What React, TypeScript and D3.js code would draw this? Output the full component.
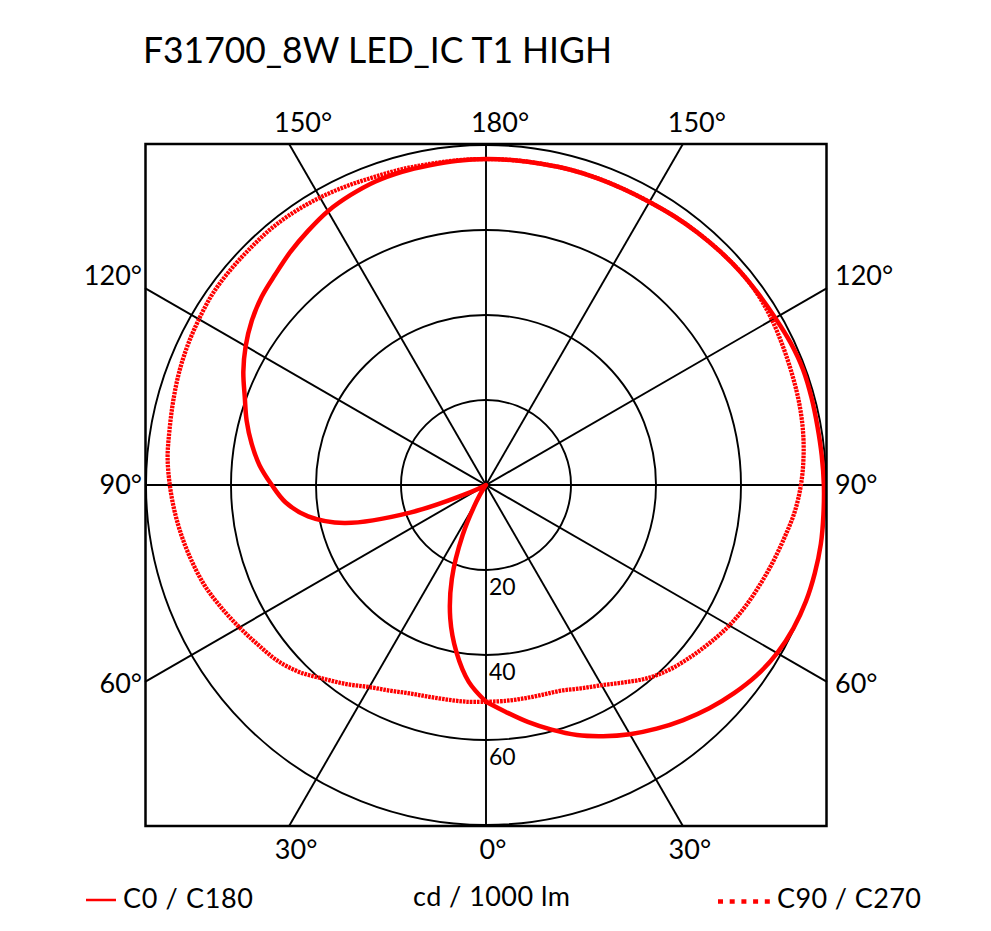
import React from 'react';
import * as d3 from 'd3';

// ---- data ----
const TITLE = 'F31700_8W LED_IC T1 HIGH';
const UNIT_LABEL = 'cd / 1000 lm';
const SERIES_A_NAME = 'C0 / C180';
const SERIES_B_NAME = 'C90 / C270';

// gamma angles (deg, 0 = down / nadir, 180 = up)
const GAMMA = [0, 5, 10, 15, 20, 25, 30, 35, 40, 45, 50, 55, 60, 65, 70, 75, 80, 85, 90,
  95, 100, 105, 110, 115, 120, 125, 130, 135, 140, 145, 150, 155, 160, 165, 170, 175, 180];

// cd/1000lm
const C0 = [51, 53.6, 56.6, 59.6, 62.6, 65.2, 67.7, 70, 72.2, 74.3, 76.2, 77.9, 79.1, 79.8, 80.1, 80.1, 80, 79.7, 79.5,
  79.3, 79.2, 79.3, 79.4, 79.1, 78.6, 78.3, 78.1, 77.8, 77.5, 77.2, 76.9, 76.8, 76.8, 76.8, 76.7, 76.7, 76.7];
const C180 = [51, 46.5, 40, 32.5, 23.5, 13, 4.5, 1, 0, 0, 0, 0, 0.5, 4, 19, 34.5, 42.5, 47.3, 50.4,
  53.5, 56, 58.3, 60.4, 63, 65.3, 67.3, 68.9, 70.1, 71.6, 73, 74.4, 75.3, 76, 76.3, 76.4, 76.6, 76.7];
const C90 = [51, 51, 51, 51.1, 51.5, 52.8, 54.4, 56.7, 59.3, 61.3, 62.9, 64.5, 66.1, 67.4, 68.6, 69.9, 71.3, 72.9, 74.1,
  75, 75.7, 76.2, 76.6, 77.1, 77.7, 78.1, 78.1, 77.8, 77.5, 77.2, 76.9, 76.8, 76.8, 76.8, 76.7, 76.7, 76.7];
const C270 = [51, 51.2, 51.3, 51.6, 52.2, 53.4, 54.9, 57.2, 59.5, 62.2, 64.2, 65.5, 67, 68.6, 70.2, 71.4, 72.5, 73.5, 74.4,
  75.2, 75.6, 76.2, 76.9, 77.5, 78, 78.5, 78.6, 78.6, 78.7, 78.5, 78.1, 77.6, 77.1, 76.9, 76.7, 76.7, 76.7];

const RING_VALUES = [20, 40, 60, 80];
const RING_LABELS = [20, 40, 60];
const SPOKE_ANGLES = [0, 30, 60, 90, 120, 150];
const TOP_LABELS = [150, 180, 150];
const BOTTOM_LABELS = [30, 0, 30];
const SIDE_LABELS = [120, 90, 60];

const FONT = 'Lato, "Open Sans", sans-serif';
const RED = '#ff0000';

export default function App() {
  React.useEffect(() => {
    document.body.style.margin = '0';
  }, []);

  const W = 991, H = 931;
  const cx = 486, cy = 485;
  const half = 341;
  const r = d3.scaleLinear().domain([0, 80]).range([0, 340]);
  const rad = (d: number) => (d * Math.PI) / 180;

  // open curve: right half from nadir over the top (a = PI - g), then left half back to nadir (a = g - PI)
  const buildPoints = (right: number[], left: number[]) => {
    const pts: [number, number][] = [];
    GAMMA.forEach((g, i) => pts.push([Math.PI - rad(g), r(right[i])]));
    for (let i = GAMMA.length - 2; i >= 0; i--) pts.push([rad(GAMMA[i]) - Math.PI, r(left[i])]);
    return pts;
  };
  const line = d3.lineRadial<[number, number]>()
    .angle(d => d[0])
    .radius(d => d[1])
    .curve(d3.curveCatmullRom.alpha(0.5));

  const pathA = line(buildPoints(C0, C180)) || '';
  const pathB = line(buildPoints(C90, C270)) || '';

  // spoke end points clipped to box
  const spokeEnd = (deg: number) => {
    const s = Math.sin(rad(deg)), c = Math.cos(rad(deg));
    const t = half / Math.max(Math.abs(s), Math.abs(c));
    return [s * t, c * t];
  };
  const topX = (deg: number, side: number) => cx + side * Math.abs(spokeEnd(deg)[0]);
  const sideY = (deg: number) => cy + spokeEnd(deg)[1];

  return (
    <svg width={W} height={H} style={{ position: 'absolute', left: 0, top: 0, background: '#fff' }}
      fontFamily={FONT}>
      <rect x={0} y={0} width={W} height={H} fill="#fff" />
      <text x={143} y={62.5} fontSize={36} fill="#000" textLength={469} lengthAdjust="spacingAndGlyphs">{TITLE}</text>

      <g transform={`translate(${cx},${cy})`}>
        {RING_VALUES.map(v => (
          <circle key={v} r={r(v)} fill="none" stroke="#000" strokeWidth={1.9} />
        ))}
        {SPOKE_ANGLES.map(a => {
          const [x, y] = spokeEnd(a);
          return <line key={a} x1={-x} y1={-y} x2={x} y2={y} stroke="#000" strokeWidth={1.9} />;
        })}
        <path d={pathB} fill="none" stroke={RED} strokeWidth={4.3} strokeDasharray="2.6 0.9" />
        <path d={pathA} fill="none" stroke={RED} strokeWidth={4.5} strokeLinejoin="round" />
        {RING_LABELS.map(v => (
          <text key={v} x={3} y={r(v) + 24.5} fontSize={23} fill="#000">{v}</text>
        ))}
      </g>
      <rect x={cx - half + 0.5} y={cy - half} width={2 * half - 1} height={2 * half}
        fill="none" stroke="#000" strokeWidth={2.5} />

      {TOP_LABELS.map((v, i) => {
        const side = i - 1;
        const x = side === 0 ? cx : topX(180 - v, side);
        return <text key={'t' + i} x={x + 14} y={132} fontSize={27} textAnchor="middle">{v}°</text>;
      })}
      {BOTTOM_LABELS.map((v, i) => {
        const side = i - 1;
        const x = side === 0 ? cx : topX(v, side);
        return <text key={'b' + i} x={x + 7} y={859} fontSize={27} textAnchor="middle">{v}°</text>;
      })}
      {SIDE_LABELS.map(v => {
        const y = sideY(v) + (v > 90 ? -3 : v === 90 ? 9 : 11);
        return (
          <g key={'s' + v}>
            <text x={142} y={y} fontSize={27} textAnchor="end">{v}°</text>
            <text x={835} y={y} fontSize={27} textAnchor="start">{v}°</text>
          </g>
        );
      })}

      {/* legend */}
      <line x1={86} x2={116} y1={900} y2={900} stroke={RED} strokeWidth={2.5} />
      <text x={123} y={908} fontSize={27} textLength={130} lengthAdjust="spacing">{SERIES_A_NAME}</text>
      <text x={413} y={906} fontSize={27} textLength={157} lengthAdjust="spacing">{UNIT_LABEL}</text>
      <line x1={718} x2={772} y1={901.5} y2={901.5} stroke={RED} strokeWidth={4.5} strokeDasharray="5 6.7" />
      <text x={777} y={908} fontSize={27} textLength={144} lengthAdjust="spacing">{SERIES_B_NAME}</text>
    </svg>
  );
}
